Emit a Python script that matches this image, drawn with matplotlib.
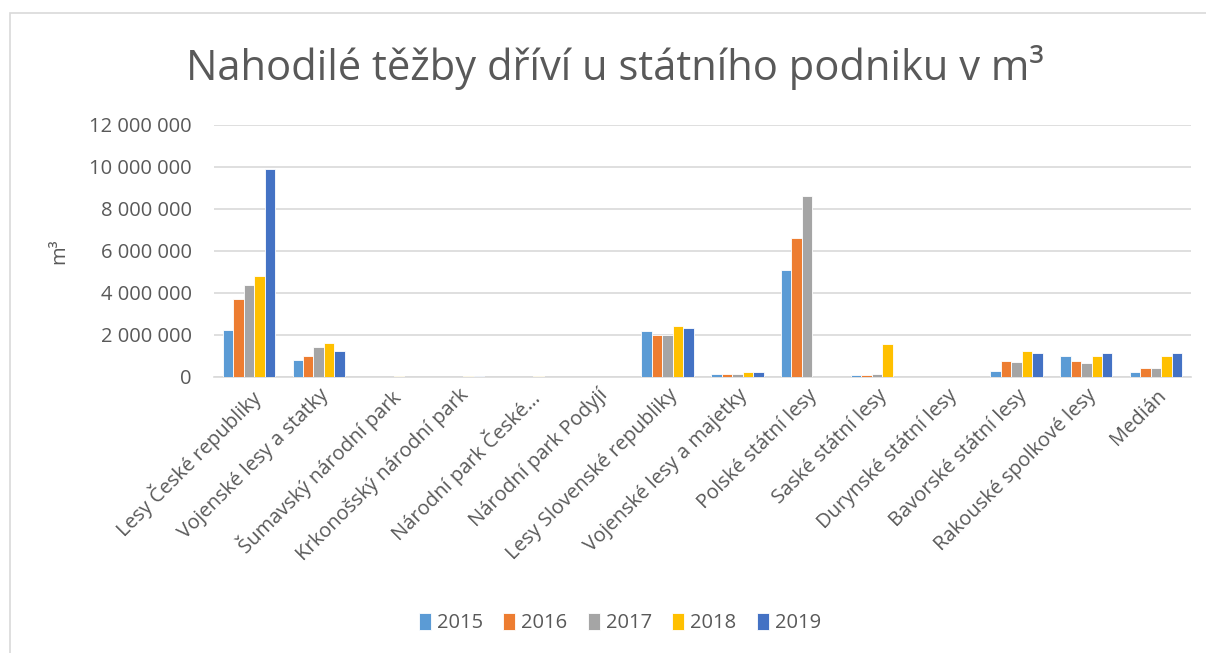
import numpy as np
import matplotlib.pyplot as plt
from matplotlib.patches import Rectangle

plt.rcParams['font.family'] = ['Open Sans', 'DejaVu Sans']

categories = ["Lesy České republiky", "Vojenské lesy a statky", "Šumavský národní park",
              "Krkonošský národní park", "Národní park České…", "Národní park Podyjí",
              "Lesy Slovenské republiky", "Vojenské lesy a majetky", "Polské státní lesy",
              "Saské státní lesy", "Durynské státní lesy", "Bavorské státní lesy",
              "Rakouské spolkové lesy", "Medián"]
years = ["2015", "2016", "2017", "2018", "2019"]

v2015 = [2220000, 820000, 0, 0, 0, 0, 2170000, 160000, 5110000, 100000, 0, 300000, 1010000, 240000]
v2016 = [3710000, 1010000, 0, 0, 0, 0, 1980000, 150000, 6620000, 80000, 0, 740000, 760000, 440000]
v2017 = [4380000, 1410000, 0, 0, 0, 0, 2010000, 150000, 8630000, 140000, 0, 700000, 670000, 410000]
v2018 = [4790000, 1620000, 40000, 30000, 40000, 0, 2440000, 220000, 0, 1590000, 0, 1250000, 980000, 980000]
v2019 = [9920000, 1250000, 0, 50000, 0, 0, 2350000, 220000, 0, 0, 0, 1120000, 1140000, 1120000]
series = [v2015, v2016, v2017, v2018, v2019]
colors = ["#5B9BD5", "#ED7D31", "#A5A5A5", "#FFC000", "#4472C4"]

fig = plt.figure(figsize=(12.06, 6.53), dpi=100)
ax = fig.add_axes([214 / 1206, 1 - 377 / 653, 977 / 1206, 252 / 653])

x = np.arange(len(categories))
w = 0.15
for i, (vals, c, yr) in enumerate(zip(series, colors, years)):
    ax.bar(x + (i - 2) * w, vals, width=w, color=c, edgecolor="white", linewidth=0.6, label=yr, zorder=3)

ax.set_xlim(-0.5, len(categories) - 0.5)
ax.set_ylim(0, 12000000)
ax.set_yticks(np.arange(0, 12000001, 2000000))
ax.set_yticklabels(["0" if t == 0 else f"{int(t):,}".replace(",", " ") for t in ax.get_yticks()],
                   fontsize=14.5, color="#595959")
ax.yaxis.grid(True, color="#D9D9D9", linewidth=1.2, zorder=0)
ax.set_axisbelow(True)
for s in ["top", "right", "left"]:
    ax.spines[s].set_visible(False)
ax.spines["bottom"].set_color("#D9D9D9")
ax.spines["bottom"].set_linewidth(1.2)
ax.tick_params(axis="both", length=0)
ax.tick_params(axis="y", pad=16)
ax.tick_params(axis="x", pad=6)
ax.set_xticks(x)
ax.set_xticklabels(categories, rotation=45, ha="right", rotation_mode="anchor",
                   fontsize=14.5, color="#595959")
ax.set_ylabel("m³", fontsize=14.5, color="#595959", labelpad=14)

fig.text(0.510, 1 - 68 / 653, "Nahodilé těžby dříví u státního podniku v m³", ha="center", va="center",
         fontsize=30, color="#595959")

leg = fig.legend(loc="center", bbox_to_anchor=(0.514, 1 - 623 / 653), ncol=5, frameon=False,
                 fontsize=14.5, handlelength=0.6, handleheight=0.9, handletextpad=0.3, columnspacing=1.0)
for t in leg.get_texts():
    t.set_color("#595959")

fig.patches.append(Rectangle((10 / 1206, -0.1), 1.2, 1 - 13 / 653 + 0.1, transform=fig.transFigure,
                             fill=False, edgecolor="#D9D9D9", linewidth=1.2))

fig.savefig("out.png", dpi=100)
